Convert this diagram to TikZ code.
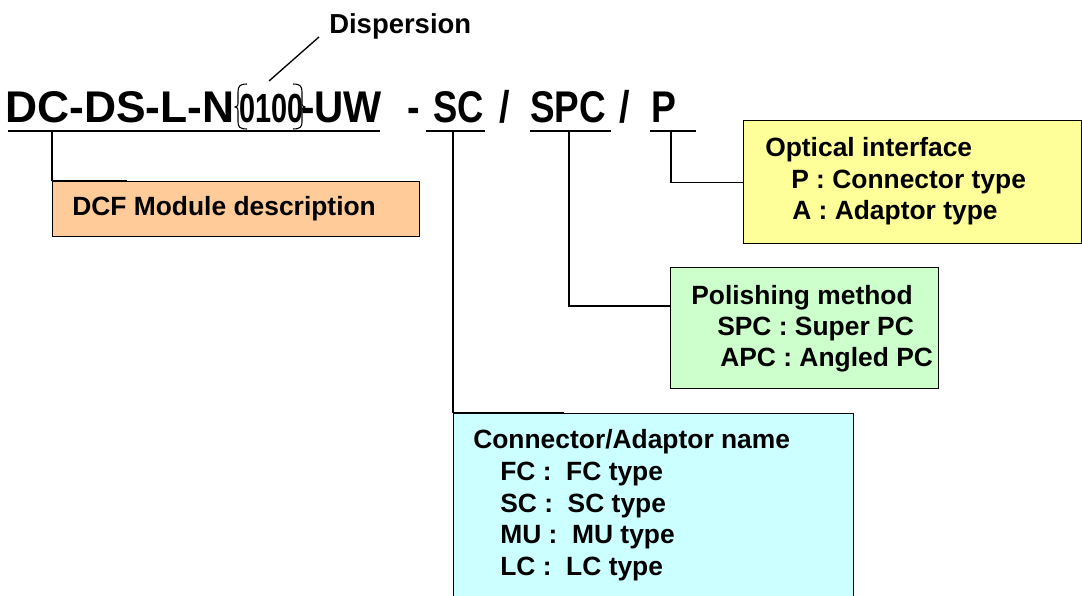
\documentclass[tikz,border=0pt]{standalone}
\usepackage{fontspec}
\usepackage{graphicx}
\setmainfont{Liberation Sans}
\usetikzlibrary{calc}
\definecolor{boxorange}{HTML}{FFCC99}
\definecolor{boxyellow}{HTML}{FFFF99}
\definecolor{boxgreen}{HTML}{CCFFCC}
\definecolor{boxcyan}{HTML}{CCFFFF}
\newcommand{\squeeze}[2]{\scalebox{#1}[1]{#2}}

\begin{document}
\begin{tikzpicture}[
  x=0.75pt, y=-0.75pt,
  tcode/.style={font=\bfseries\fontsize{33.3}{40}\selectfont, anchor=base west, inner sep=0},
  boxtext/.style={font=\bfseries\fontsize{19.8}{24}\selectfont, anchor=base west, inner sep=0},
  infobox/.style={draw, line width=1pt, anchor=north west, inner sep=0, rectangle},
  uline/.style={line width=2.2pt},
  link/.style={line width=1pt},
  stub/.style={line width=1.6pt},
  brk/.style={line width=0.8pt}
]
\useasboundingbox (0,0) rectangle (1082,596);
\clip (0,0) rectangle (1082,596);

% part number
\node[tcode] (t-main) at (5,122)   {DC-DS-L-N};
\node[tcode, font=\bfseries\fontsize{30.5}{40}\selectfont] (t-num) at (239,122) {\squeeze{0.71}{0100}};
\node[tcode] (t-uw)   at (301,122) {\squeeze{0.91}{-UW}};
\node[tcode] (t-dash) at (407,122) {\squeeze{0.85}{-}};
\node[tcode] (t-sc)   at (433,122) {\squeeze{0.82}{SC}};
\node[tcode] (t-sl1)  at (499,122) {\squeeze{0.85}{/}};
\node[tcode] (t-spc)  at (530,122) {\squeeze{0.83}{SPC}};
\node[tcode] (t-sl2)  at (619,122) {\squeeze{0.85}{/}};
\node[tcode] (t-p)    at (651,122) {\squeeze{0.84}{P}};

\draw[uline] (8,131) -- (380,131);
\draw[uline] (426,131) -- (485,131);
\draw[uline] (530,131) -- (611,131);
\draw[uline] (650,131) -- (696,131);

\coordinate (u-dc)  at (52,131);
\coordinate (u-sc)  at (453,131);
\coordinate (u-spc) at (569,131);
\coordinate (u-p)   at (671,131);

% dispersion field
\draw[brk] (247,84) .. controls (240,84) and (238,86) .. (238,92) -- (238,103)
  .. controls (238,106) .. (235,107) .. controls (238,108) .. (238,111) -- (238,122)
  .. controls (238,127) and (240,129) .. (247,129);
\draw[brk] (293,84) .. controls (300,84) and (302,86) .. (302,92) -- (302,103)
  .. controls (302,106) .. (305,107) .. controls (302,108) .. (302,111) -- (302,122)
  .. controls (302,127) and (300,129) .. (293,129);
\coordinate (c-brk) at (269,81);
\node[boxtext, font=\bfseries\fontsize{20.6}{24}\selectfont] (t-disp) at (329,33) {Dispersion};
\draw[link] (c-brk) -- ($(t-disp.south west)+(-10,-2)$);

% boxes
\node[infobox, fill=boxorange, minimum width=275.25pt, minimum height=41.25pt] (b-dcf)  at (52,181)  {};
\node[infobox, fill=boxyellow, minimum width=253.5pt,  minimum height=92.25pt] (b-opt)  at (743,120) {};
\node[infobox, fill=boxgreen,  minimum width=201pt,    minimum height=90.75pt] (b-pol)  at (670,267) {};
\node[infobox, fill=boxcyan,   minimum width=300pt,    minimum height=160pt]   (b-conn) at (453,413) {};

\node[boxtext] (l-dcf) at (72,215) {DCF Module description};

\node[boxtext] (l-opt)  at (765,156) {Optical interface};
\node[boxtext] (l-optp) at (791,188) {P : Connector type};
\node[boxtext] (l-opta) at (792,219) {A : Adaptor type};

\node[boxtext] (l-pol)  at (691,304) {Polishing method};
\node[boxtext] (l-pols) at (717,335) {SPC : Super PC};
\node[boxtext] (l-pola) at (720,366) {APC : Angled PC};

\node[boxtext] (l-conn)   at (473,448) {Connector/Adaptor name};
\node[boxtext] (l-connfc) at (500,480) {FC :~~FC type};
\node[boxtext] (l-connsc) at (500,512) {SC :~~SC type};
\node[boxtext] (l-connmu) at (500,543) {MU :~~MU type};
\node[boxtext] (l-connlc) at (500,575) {LC :~~LC type};

% connectors
\draw[link] (u-dc) -- (b-dcf.north west);
\draw[stub] (b-dcf.north west) -- ++(75,0);
\draw[link] (u-sc) -- (b-conn.north west);
\draw[stub] (b-conn.north west) -- ++(111,0);
\draw[link] (u-spc) |- ($(b-pol.north west)+(0,39)$);
\draw[link] (u-p) |- (b-opt.west);

\end{tikzpicture}
\end{document}
